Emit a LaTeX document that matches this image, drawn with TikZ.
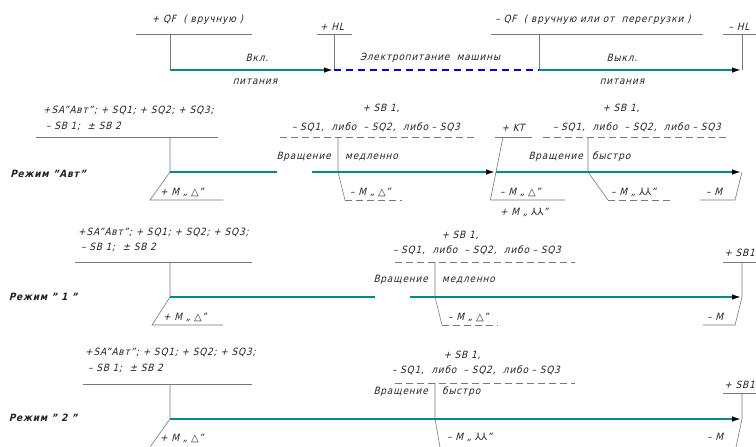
\documentclass[tikz,border=0pt]{standalone}
\usepackage{fontspec}
\setmainfont{DejaVu Sans}[FakeSlant=0.25,FakeStretch=0.9,LetterSpace=8]
\newfontfamily\symf{DejaVu Sans}
\usetikzlibrary{arrows.meta}
\definecolor{tl}{RGB}{0, 140, 140}
\definecolor{ln}{RGB}{120, 120, 120}
\definecolor{tx}{RGB}{35, 35, 35}

\begin{document}
\begin{tikzpicture}[
  txt/.style={inner sep=0pt, text=tx, font=\fontsize{10}{15.5}\selectfont},
  mode/.style={txt, font=\fontsize{10}{12}\selectfont\bfseries},
  rule/.style={line width=0.6pt, color=ln},
  drule/.style={rule, dash pattern=on 7pt off 4pt},
  run/.style={line width=2.2pt, color=tl},
  runarr/.style={run, -{Latex[color=black, length=10pt, width=5.5pt]}},
  pwr/.style={line width=1.2pt, color=blue, dash pattern=on 7pt off 5pt}]
\useasboundingbox (0pt, 0pt) rectangle (756pt, -447pt);
% power
\node (qfon) [txt] at (197.5pt, -20pt) {+ QF \ ( вручную )};
\node (hlon) [txt] at (332pt, -27pt) {+ HL};
\node (qfoff) [txt] at (593pt, -20pt) {– QF \ ( вручную или от \ перегрузки )};
\node (hloff) [txt] at (739pt, -27pt) {– HL};
\node (von) [txt] at (257pt, -58pt) {Вкл.};
\node (pon) [txt] at (255pt, -82pt) {питания};
\node (elp) [txt] at (430pt, -58pt) {Электропитание \ машины};
\node (voff) [txt] at (622pt, -58pt) {Выкл.};
\node (poff) [txt] at (622pt, -82pt) {питания};
\coordinate (qfonL) at (136pt, -34pt);
\coordinate (qfonR) at (252pt, -34pt);
\coordinate (qfonT) at (170pt, -34pt);
\coordinate (a0) at (170pt, -70pt);
\coordinate (hlonL) at (317pt, -34pt);
\coordinate (hlonR) at (352pt, -34pt);
\coordinate (hlonT) at (334pt, -34pt);
\coordinate (b0) at (334pt, -70pt);
\coordinate (qfoffL) at (491pt, -34pt);
\coordinate (qfoffR) at (703pt, -34pt);
\coordinate (qfoffT) at (539pt, -34pt);
\coordinate (c0) at (539pt, -70pt);
\coordinate (hloffL) at (723pt, -34pt);
\coordinate (hloffR) at (756pt, -34pt);
\coordinate (hloffT) at (742pt, -34pt);
\coordinate (d0) at (742pt, -70pt);
\draw [rule] (qfonL) -- (qfonR);
\draw [rule] (qfonT) -- (a0);
\draw [rule] (hlonL) -- (hlonR);
\draw [rule] (hlonT) -- (b0);
\draw [rule] (qfoffL) -- (qfoffR);
\draw [rule] (qfoffT) -- (c0);
\draw [rule] (hloffL) -- (hloffR);
\draw [rule] (hloffT) -- (d0);
\draw [runarr] (a0) -- (b0);
\draw [pwr] (b0) -- (c0);
\draw [runarr] (c0) -- (d0);
% mode auto
\node (m1) [mode] at (48pt, -174pt) {Режим "Авт"};
\node (sa1) [txt, anchor=west, align=left] at (43pt, -118.5pt) {+SA"Авт"; + SQ1; + SQ2; + SQ3;\\\hspace{3pt}– SB 1; \ ± SB 2};
\node (sb1a) [txt] at (381pt, -108pt) {+ SB 1,};
\node (sq1a) [txt] at (376pt, -127pt) {– SQ1, \ либо \ – SQ2, \ либо – SQ3};
\node (vr1a) [txt, anchor=east] at (331pt, -157pt) {Вращение};
\node (sl1) [txt, anchor=west] at (345pt, -157pt) {медленно};
\node (kt) [txt] at (513pt, -128pt) {+ KT};
\node (sb1b) [txt] at (621pt, -108pt) {+ SB 1,};
\node (sq1b) [txt] at (637pt, -127pt) {– SQ1, \ либо \ – SQ2, \ либо – SQ3};
\node (vr1b) [txt, anchor=east] at (583pt, -157pt) {Вращение};
\node (fs1) [txt, anchor=west] at (592pt, -157pt) {быстро};
\node (mp1) [txt, anchor=west] at (160pt, -192pt) {+ M „ {\symf △}"};
\node (mn1) [txt, anchor=west] at (350pt, -192pt) {– M „ {\symf △}"};
\node (kmn) [txt, anchor=west] at (500pt, -192pt) {– M „ {\symf △}"};
\node (kmp) [txt, anchor=west] at (500pt, -212pt) {+ M „ {\symf ⅄⅄}"};
\node (mn1b) [txt, anchor=west] at (611pt, -192pt) {– M „ {\symf ⅄⅄}"};
\node (mo1) [txt, anchor=west] at (706pt, -192pt) {– M};
\coordinate (sa1L) at (36pt, -137pt);
\coordinate (sa1R) at (218pt, -137pt);
\coordinate (sa1T) at (170pt, -137pt);
\coordinate (a1) at (170pt, -172pt);
\coordinate (a1e) at (277pt, -172pt);
\coordinate (b1s) at (312pt, -172pt);
\coordinate (a1B) at (150pt, -200pt);
\coordinate (a1R) at (223pt, -200pt);
\coordinate (sq1aL) at (280pt, -137pt);
\coordinate (sq1aR) at (477pt, -137pt);
\coordinate (sq1aT) at (338pt, -137pt);
\coordinate (b1) at (338pt, -172pt);
\coordinate (b1B) at (345pt, -200pt);
\coordinate (b1R) at (402pt, -200pt);
\coordinate (ktL) at (495pt, -137pt);
\coordinate (ktR) at (532pt, -137pt);
\coordinate (ktT) at (503pt, -137pt);
\coordinate (k1) at (496pt, -172pt);
\coordinate (k1B) at (490.4pt, -200pt);
\coordinate (k1R) at (565pt, -200pt);
\coordinate (sq1bL) at (543pt, -137pt);
\coordinate (sq1bR) at (728pt, -137pt);
\coordinate (sq1bT) at (588pt, -137pt);
\coordinate (c1) at (588pt, -172pt);
\coordinate (c1B) at (608pt, -200pt);
\coordinate (c1R) at (670pt, -200pt);
\coordinate (d1) at (742pt, -172pt);
\coordinate (d1B) at (735pt, -200pt);
\coordinate (d1L) at (700pt, -200pt);
\draw [rule] (sa1L) -- (sa1R);
\draw [rule] (sa1T) -- (a1) -- (a1B) -- (a1R);
\draw [drule] (sq1aL) -- (sq1aR);
\draw [rule] (sq1aT) -- (b1) -- (b1B);
\draw [drule] (b1B) -- (b1R);
\draw [rule] (ktL) -- (ktR);
\draw [rule] (ktT) -- (k1) -- (k1B) -- (k1R);
\draw [drule] (sq1bL) -- (sq1bR);
\draw [rule] (sq1bT) -- (c1) -- (c1B);
\draw [drule] (c1B) -- (c1R);
\draw [rule] (d1) -- (d1B) -- (d1L);
\draw [run] (a1) -- (a1e);
\draw [runarr] (b1s) -- (k1);
\draw [runarr] (k1) -- (d1);
% mode 1
\node (m2) [mode] at (43pt, -297pt) {Режим " 1 "};
\node (sa2) [txt, anchor=west, align=left] at (78pt, -240pt) {+SA"Авт"; + SQ1; + SQ2; + SQ3;\\\hspace{3pt}– SB 1; \ ± SB 2};
\node (sb2) [txt] at (460pt, -235pt) {+ SB 1,};
\node (sq2) [txt] at (477pt, -250pt) {– SQ1, \ либо \ – SQ2, \ либо – SQ3};
\node (vr2) [txt, anchor=east] at (428pt, -280pt) {Вращение};
\node (sl2) [txt, anchor=west] at (442pt, -280pt) {медленно};
\node (sbo2) [txt, anchor=east] at (755pt, -253pt) {+ SB1};
\node (mp2) [txt, anchor=west] at (163pt, -317pt) {+ M „ {\symf △}"};
\node (mn2) [txt, anchor=west] at (448pt, -317pt) {– M „ {\symf △}"};
\node (mo2) [txt, anchor=west] at (707pt, -317pt) {– M};
\coordinate (sa2L) at (75pt, -262pt);
\coordinate (sa2R) at (252pt, -262pt);
\coordinate (sa2T) at (170pt, -262pt);
\coordinate (a2) at (170pt, -297pt);
\coordinate (a2e) at (375pt, -297pt);
\coordinate (b2s) at (410pt, -297pt);
\coordinate (a2B) at (152pt, -325pt);
\coordinate (a2R) at (223pt, -325pt);
\coordinate (sq2L) at (395pt, -262pt);
\coordinate (sq2R) at (575pt, -262pt);
\coordinate (sq2T) at (435pt, -262pt);
\coordinate (b2) at (435pt, -297pt);
\coordinate (b2B) at (442pt, -325pt);
\coordinate (b2R) at (498pt, -325pt);
\coordinate (sbo2L) at (723pt, -262pt);
\coordinate (sbo2R) at (756pt, -262pt);
\coordinate (sbo2T) at (742pt, -262pt);
\coordinate (d2) at (742pt, -297pt);
\coordinate (d2B) at (735pt, -325pt);
\coordinate (d2L) at (703pt, -325pt);
\draw [rule] (sa2L) -- (sa2R);
\draw [rule] (sa2T) -- (a2) -- (a2B) -- (a2R);
\draw [drule] (sq2L) -- (sq2R);
\draw [rule] (sq2T) -- (b2) -- (b2B);
\draw [drule] (b2B) -- (b2R);
\draw [rule] (sbo2L) -- (sbo2R);
\draw [rule] (sbo2T) -- (d2) -- (d2B) -- (d2L);
\draw [run] (a2) -- (a2e);
\draw [runarr] (b2s) -- (d2);
% mode 2
\node (m3) [mode] at (43pt, -418pt) {Режим " 2 "};
\node (sa3) [txt, anchor=west, align=left] at (85pt, -360.5pt) {+SA"Авт"; + SQ1; + SQ2; + SQ3;\\\hspace{3pt}– SB 1; \ ± SB 2};
\node (sb3) [txt] at (462pt, -355pt) {+ SB 1,};
\node (sq3) [txt] at (476pt, -370pt) {– SQ1, \ либо \ – SQ2, \ либо – SQ3};
\node (vr3) [txt, anchor=east] at (428pt, -392pt) {Вращение};
\node (fs3) [txt, anchor=west] at (442pt, -392pt) {быстро};
\node (sbo3) [txt, anchor=east] at (755pt, -385pt) {+ SB1};
\node (mp3) [txt, anchor=west] at (160pt, -438pt) {+ M „ {\symf △}"};
\node (mn3) [txt, anchor=west] at (447pt, -437pt) {– M „ {\symf ⅄⅄}"};
\node (mo3) [txt, anchor=west] at (707pt, -437pt) {– M};
\coordinate (sa3L) at (83pt, -384pt);
\coordinate (sa3R) at (252pt, -384pt);
\coordinate (sa3T) at (170pt, -384pt);
\coordinate (a3) at (170pt, -419pt);
\coordinate (a3B) at (150pt, -447pt);
\coordinate (sq3L) at (395pt, -383pt);
\coordinate (sq3R) at (575pt, -383pt);
\coordinate (sq3T) at (435pt, -383pt);
\coordinate (b3) at (435pt, -419pt);
\coordinate (b3B) at (440pt, -447pt);
\coordinate (sbo3L) at (723pt, -393pt);
\coordinate (sbo3R) at (756pt, -393pt);
\coordinate (sbo3T) at (742pt, -393pt);
\coordinate (d3) at (742pt, -419pt);
\coordinate (d3B) at (736pt, -447pt);
\draw [rule] (sa3L) -- (sa3R);
\draw [rule] (sa3T) -- (a3) -- (a3B);
\draw [drule] (sq3L) -- (sq3R);
\draw [rule] (sq3T) -- (b3) -- (b3B);
\draw [rule] (sbo3L) -- (sbo3R);
\draw [rule] (sbo3T) -- (d3) -- (d3B);
\draw [runarr] (a3) -- (d3);
\end{tikzpicture}
\end{document}
